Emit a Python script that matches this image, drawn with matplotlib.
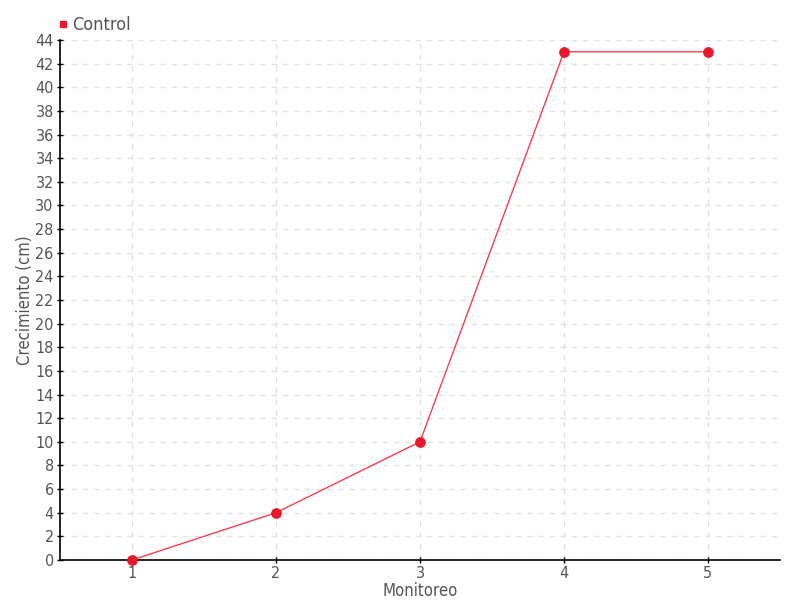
import matplotlib
matplotlib.use("Agg")
import matplotlib.pyplot as plt
from matplotlib.lines import Line2D

# datos
monitoreo = [1, 2, 3, 4, 5]
control = [0, 4, 10, 43, 43]
y_ticks = list(range(0, 45, 2))

plt.rcParams['font.family'] = ['DejaVu Sans']
plt.rcParams['font.stretch'] = 'condensed'

fig = plt.figure(figsize=(8, 6), dpi=100)
ax = fig.add_axes([0.075, 0.0667, 0.9, 0.8667])

ax.plot(monitoreo, control, color='#f4404c', lw=1, zorder=3)
ax.scatter(monitoreo, control, s=45, color='#e8192c', zorder=4, clip_on=False)

ax.set_xlim(0.5, 5.5)
ax.set_ylim(0, 44)
ax.set_xticks(monitoreo)
ax.set_yticks(y_ticks)
ax.grid(True, color='#e2e2e2', ls=(0, (4, 4)), lw=1)
ax.set_axisbelow(True)
for s in ['top', 'right']:
    ax.spines[s].set_visible(False)
for s in ['left', 'bottom']:
    ax.spines[s].set_linewidth(1.2)
ax.tick_params(direction='inout', length=5, width=1, colors='black',
               labelcolor='#555555', labelsize=11.5, pad=2)

ax.set_xlabel('Monitoreo', color='#555555', fontsize=12, labelpad=0.5)
ax.set_ylabel('Crecimiento (cm)', color='#555555', fontsize=12, labelpad=1)

handle = Line2D([], [], ls='none', marker='s', color='#e8192c', markersize=5)
fig.legend([handle], ['Control'], loc='upper left', bbox_to_anchor=(0.052, 1.0),
           frameon=False, fontsize=13, handlelength=0.6, handletextpad=0.2,
           labelcolor='#555555')

plt.savefig('out.png')
